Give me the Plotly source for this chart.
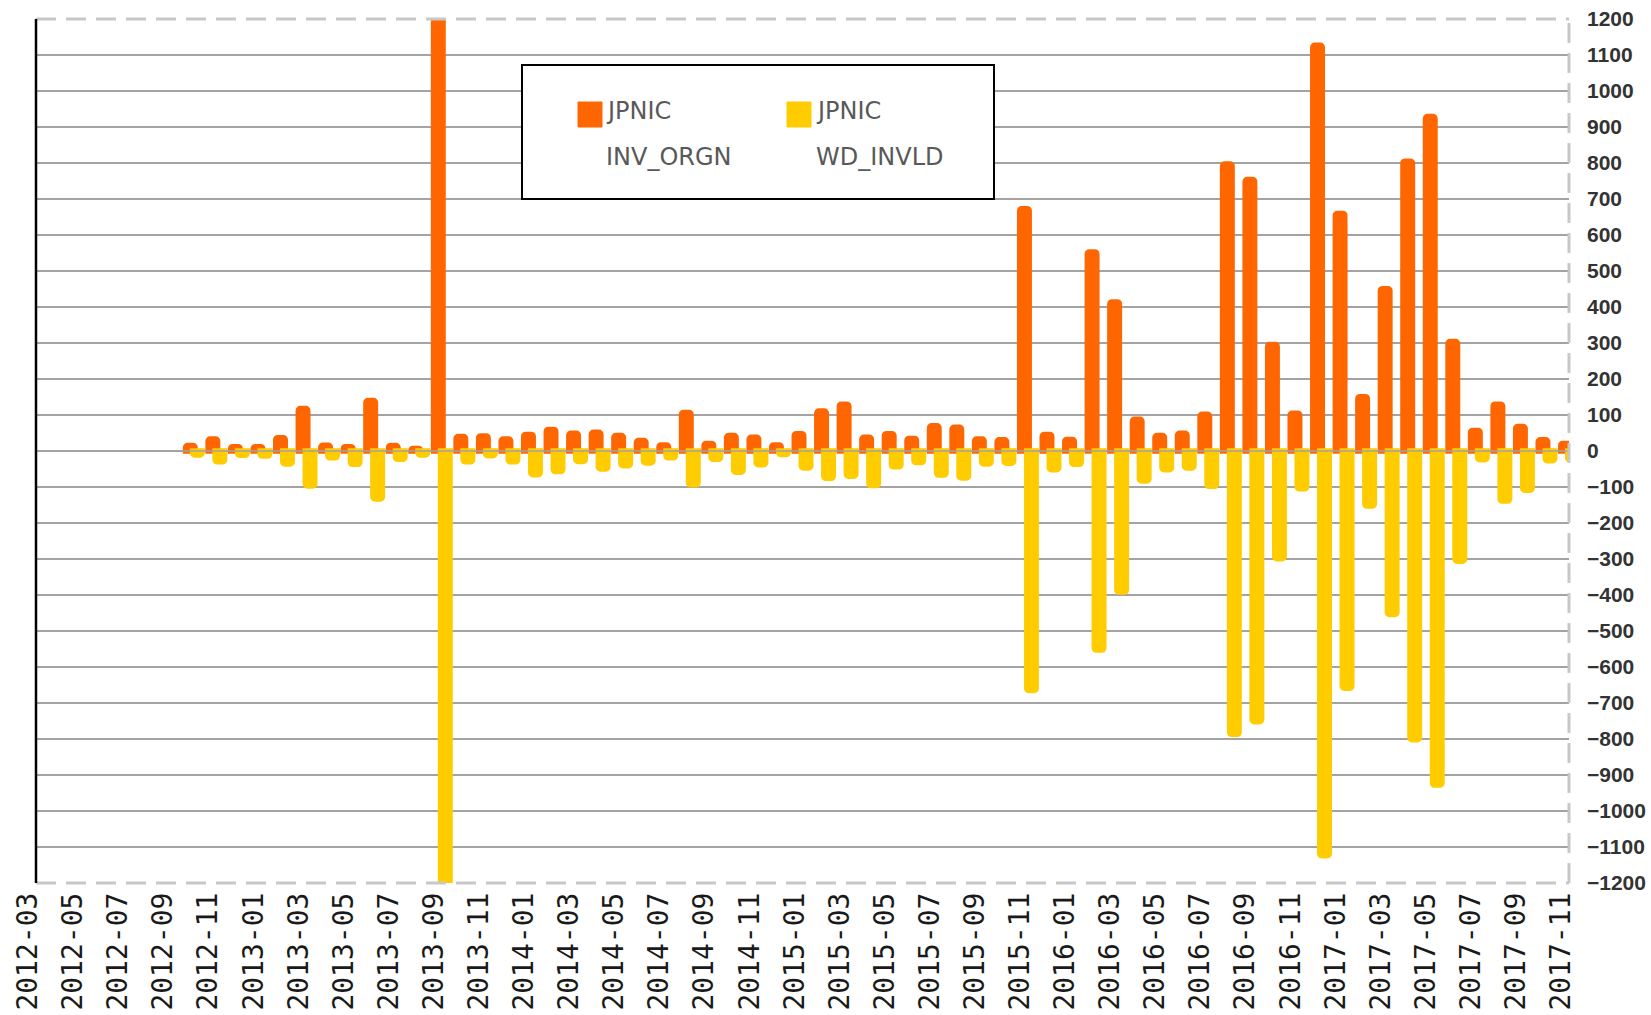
import pandas as pd
import plotly.graph_objects as go

# ---- categories ----
axis_months = [p.strftime("%Y-%m") for p in pd.period_range("2012-03", "2017-11", freq="M")]
bar_months = [p.strftime("%Y-%m") for p in pd.period_range("2012-10", "2017-11", freq="M")]
tick_months = axis_months[::2]

# ---- series values ----
inv_orgn = [
    15, 33, 12,                                                   # 2012-10..12
    12, 37, 118, 16, 12, 140, 15, 7, 1400, 40, 42, 33,            # 2013
    46, 60, 49, 52, 43, 29, 17, 107, 21, 43, 38, 17,              # 2014
    48, 111, 130, 38, 48, 35, 70, 66, 33, 31, 673, 46,            # 2015
    32, 553, 414, 88, 43, 49, 102, 797, 754, 296, 105, 1127,      # 2016
    660, 151, 451, 805, 929, 304, 57, 130, 68, 31, 21,            # 2017-01..11
]
wd_invld = [
    -11, -30, -12,
    -14, -36, -97, -19, -37, -133, -23, -11, -1400, -30, -13, -30,
    -66, -57, -29, -50, -41, -33, -19, -94, -23, -59, -38, -10,
    -47, -76, -70, -96, -44, -32, -67, -75, -36, -34, -665, -52,
    -37, -553, -392, -83, -52, -47, -98, -787, -752, -299, -105, -1124,
    -659, -153, -454, -802, -928, -306, -24, -139, -109, -27, -25,
]
y_ticks = list(range(-1200, 1201, 100))

series_names = ["JPNIC INV_ORGN", "JPNIC WD_INVLD"]
ORANGE = "#FF6600"
YELLOW = "#FFCC00"

W, H = 1651, 1015
L, T, R, B = 36, 19, 82, 132
PW, PH = W - L - R, H - T - B


def px_x(x_full):
    return (x_full - L) / PW


def px_y(y_full):
    return 1 - (y_full - T) / PH


fig = go.Figure()
fig.add_trace(go.Bar(
    x=bar_months, y=inv_orgn, name=series_names[0],
    width=0.42, offset=-0.365,
    marker=dict(color=ORANGE, line=dict(color=ORANGE, width=5.5), cornerradius=2),
))
fig.add_trace(go.Bar(
    x=bar_months, y=wd_invld, name=series_names[1],
    width=0.42, offset=-0.055,
    marker=dict(color=YELLOW, line=dict(color=YELLOW, width=5.5), cornerradius=2),
))

GRID = "#a3a3a3"
BORDER = "#c8c8c8"
shapes = [
    dict(type="line", xref="x", yref="y", x0=0, x1=len(axis_months) - 1, y0=1200, y1=1200,
         line=dict(color="white", width=4), layer="below"),
    dict(type="line", xref="x", yref="y", x0=0, x1=len(axis_months) - 1, y0=-1200, y1=-1200,
         line=dict(color="white", width=4), layer="below"),
    dict(type="line", xref="paper", yref="y", x0=0, x1=1, y0=0, y1=0,
         line=dict(color=GRID, width=1.5), layer="above"),
    dict(type="line", xref="paper", yref="paper", x0=0, x1=1, y0=1, y1=1,
         line=dict(color=BORDER, width=3, dash="20px,10px"), layer="above"),
    dict(type="line", xref="paper", yref="paper", x0=0, x1=1, y0=0, y1=0,
         line=dict(color=BORDER, width=3, dash="20px,10px"), layer="above"),
    dict(type="line", xref="paper", yref="paper", x0=1, x1=1, y0=0, y1=1,
         line=dict(color=BORDER, width=3, dash="20px,10px"), layer="above"),
    dict(type="line", xref="paper", yref="paper", x0=0, x1=0, y0=0, y1=1,
         line=dict(color="black", width=2.5), layer="above"),
    # legend box and swatches
    dict(type="rect", xref="paper", yref="paper", x0=px_x(522), x1=px_x(994), y0=px_y(199), y1=px_y(65),
         line=dict(color="black", width=2), fillcolor="white", layer="above"),
    dict(type="rect", xref="paper", yref="paper", x0=px_x(578), x1=px_x(602), y0=px_y(127), y1=px_y(102),
         line=dict(color=ORANGE, width=1), fillcolor=ORANGE, layer="above"),
    dict(type="rect", xref="paper", yref="paper", x0=px_x(787), x1=px_x(811), y0=px_y(127), y1=px_y(102),
         line=dict(color=YELLOW, width=1), fillcolor=YELLOW, layer="above"),
]

LEG_FONT = dict(family="DejaVu Sans", size=24, color="#595959")
annotations = []
for xf, (top, bottom) in zip([604, 814], [n.split(" ") for n in series_names]):
    annotations.append(dict(xref="paper", yref="paper", x=px_x(xf), y=px_y(111), text=top,
                            showarrow=False, xanchor="left", yanchor="middle", font=LEG_FONT))
    annotations.append(dict(xref="paper", yref="paper", x=px_x(xf), y=px_y(157), text=bottom,
                            showarrow=False, xanchor="left", yanchor="middle", font=LEG_FONT))

fig.update_layout(
    width=W, height=H, autosize=False,
    margin=dict(l=L, r=R, t=T, b=B, autoexpand=False),
    paper_bgcolor="white", plot_bgcolor="white",
    barmode="overlay", showlegend=False,
    shapes=shapes, annotations=annotations,
    xaxis=dict(
        type="category", categoryorder="array", categoryarray=axis_months,
        range=[0, len(axis_months) - 1], automargin=False,
        tickmode="array", tickvals=tick_months, ticktext=tick_months,
        tickangle=-90, showgrid=False, zeroline=False, showline=False, ticks="",
        ticklabelstandoff=3, ticklabelshift=-8, ticklabeloverflow="allow",
        tickfont=dict(family="DejaVu Sans Mono", size=28, color="#1a1a1a"),
    ),
    yaxis=dict(
        side="right", range=[-1200, 1200], automargin=False,
        tickmode="array", tickvals=y_ticks, ticktext=[f"{v:d}".replace("-", "\u2212") for v in y_ticks],
        showgrid=True, gridcolor=GRID, gridwidth=1.5, zeroline=False, showline=False, ticks="",
        ticklabelstandoff=17, ticklabeloverflow="allow",
        tickfont=dict(family="Liberation Sans", size=21, color="#333333", weight="bold"),
    ),
)

fig.write_html(
    "out.html",
    config={"displayModeBar": False},
    post_script="document.body.style.margin='0';document.body.style.overflow='hidden';",
)
